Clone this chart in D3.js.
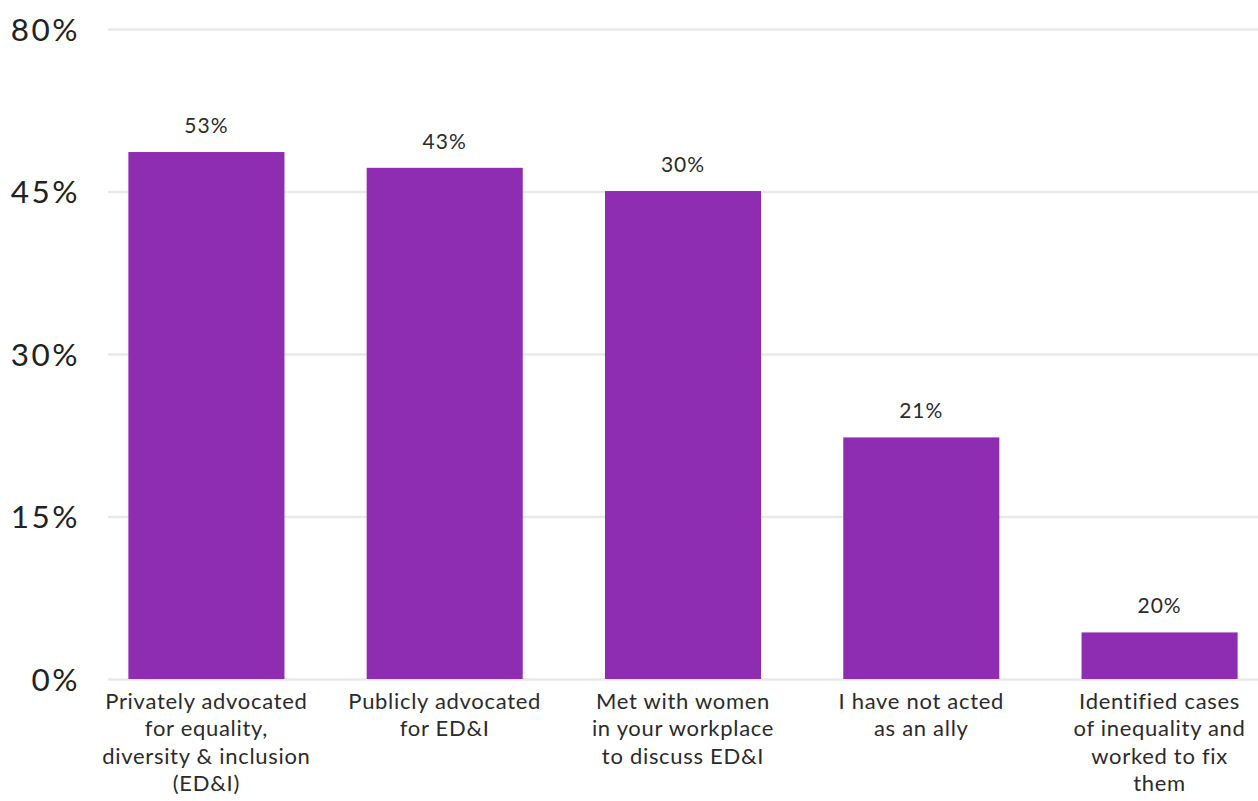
<!DOCTYPE html>
<html>
<head>
<meta charset="utf-8">
<script src="https://cdn.jsdelivr.net/npm/d3@7"></script>
<style>
  html, body { margin: 0; padding: 0; background: #fff; }
  svg text { font-family: Lato, 'Open Sans', sans-serif; fill: #2b2b2b; }
</style>
</head>
<body>
<div id="content"></div>
<script>
'use strict';

var categories = [
    ['Privately advocated', 'for equality,', 'diversity & inclusion', '(ED&I)'],
    ['Publicly advocated', 'for ED&I'],
    ['Met with women', 'in your workplace', 'to discuss ED&I'],
    ['I have not acted', 'as an ally'],
    ['Identified cases', 'of inequality and', 'worked to fix', 'them']
]
// bar heights as drawn against the axis
var barValues = [53.5, 50.1, 45.1, 22.3, 4.3]
// numbers printed above the bars
var barLabels = ['53%', '43%', '30%', '21%', '20%']
// the axis ticks are spaced evenly even though the step changes at the top
var yTicks = [0, 15, 30, 45, 80]

var chartWidth = 1258
var chartHeight = 801
var plotLeft = 108
var plotBottom = 679
var plotTop = 29

var svg = d3.select('#content').append('svg')
    .attr('width', chartWidth).attr('height', chartHeight)

var x = d3.scaleBand()
    .domain(d3.range(categories.length))
    .range([plotLeft, chartWidth])
    .paddingInner(0.345)
    .paddingOuter(0.0855)

var step = (plotBottom - plotTop) / (yTicks.length - 1)
var y = d3.scaleLinear()
    .domain(yTicks)
    .range(yTicks.map(function(d, i) { return plotBottom - i * step }))

// grid + labels
var yAxis = d3.axisLeft(y)
    .tickValues(yTicks)
    .tickSize(-(chartWidth - plotLeft))
    .tickPadding(28)
    .tickFormat(function(d) { return d + '%' })

var ga = svg.append('g').attr('transform', 'translate(' + plotLeft + ',0)').call(yAxis)
ga.select('.domain').remove()
ga.selectAll('.tick line').attr('stroke', '#e9e9e9').attr('stroke-width', 2.5)
ga.selectAll('.tick text')
    .attr('font-size', 31.5)
    .attr('letter-spacing', 2.5)
    .attr('x', -28)
    .attr('dy', '0.36em')
    .style('fill', '#222')

svg.append('g').selectAll('rect')
    .data(barValues)
    .enter().append('rect')
    .attr('x', function(d, i) { return x(i) })
    .attr('y', function(d) { return y(d) })
    .attr('width', x.bandwidth())
    .attr('height', function(d) { return plotBottom - y(d) })
    .attr('fill', '#8f2db2')

svg.append('g').selectAll('text')
    .data(barValues)
    .enter().append('text')
    .attr('x', function(d, i) { return x(i) + x.bandwidth() / 2 })
    .attr('y', function(d) { return y(d) - 19 })
    .attr('text-anchor', 'middle')
    .attr('font-size', 21)
    .attr('letter-spacing', 1)
    .text(function(d, i) { return barLabels[i] })

var cat = svg.append('g').selectAll('text')
    .data(categories)
    .enter().append('text')
    .attr('x', function(d, i) { return x(i) + x.bandwidth() / 2 })
    .attr('y', 709)
    .attr('text-anchor', 'middle')
    .attr('font-size', 22)
    .attr('letter-spacing', 0.7)

cat.selectAll('tspan')
    .data(function(d) { return d })
    .enter().append('tspan')
    .attr('x', function() { return d3.select(this.parentNode).attr('x') })
    .attr('dy', function(d, i) { return i == 0 ? 0 : 27.3 })
    .text(function(d) { return d })
</script>
</body>
</html>
